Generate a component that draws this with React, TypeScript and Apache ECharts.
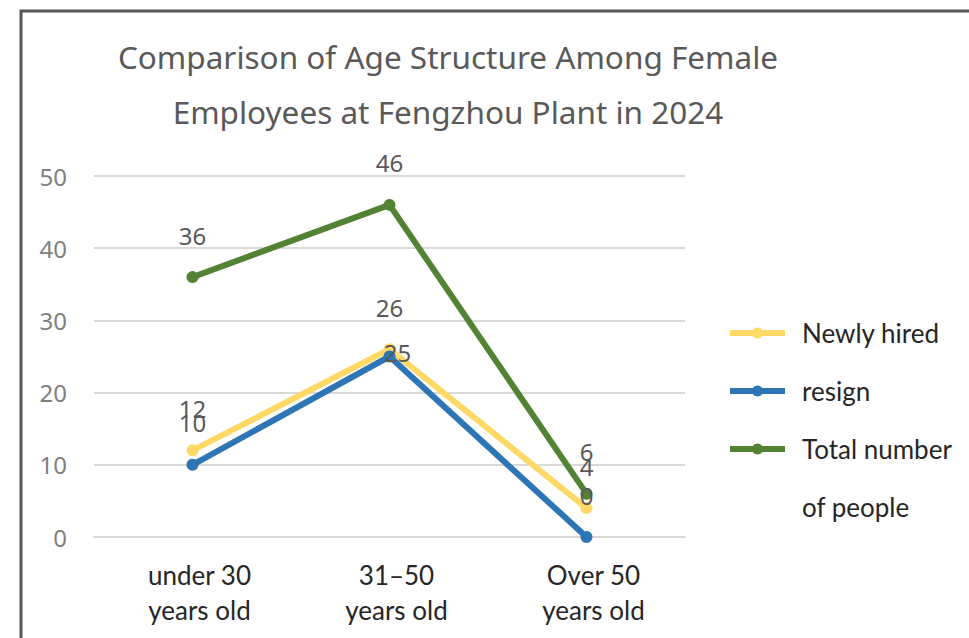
import React, { useEffect, useRef } from 'react';
import * as echarts from 'echarts';

const categories = ['under 30\nyears old', '31–50\nyears old', 'Over 50\nyears old'];
const seriesNames = ['Newly hired', 'resign', 'Total number\nof people'];
const newlyHired = [12, 26, 4];
const resign = [10, 25, 0];
const totalPeople = [36, 46, 6];
const seriesColors = ['#FFD966', '#2E75B6', '#548235'];
const titleText = 'Comparison of Age Structure Among Female\nEmployees at Fengzhou Plant in 2024';

export default function App() {
  const ref = useRef<HTMLDivElement>(null);
  useEffect(() => {
    if (!ref.current) return;
    const chart = echarts.init(ref.current, undefined, { renderer: 'svg' });
    const labelBase = {
      show: true,
      position: 'top',
      distance: 24,
      fontSize: 24,
      color: '#595959',
      fontFamily: 'Noto Sans',
    };
    const mkSeries = (name: string, data: any[], color: string) => ({
      name,
      type: 'line',
      data,
      symbol: 'circle',
      symbolSize: 12,
      color,
      itemStyle: { color },
      lineStyle: { color, width: 6 },
      label: labelBase,
    });
    const resignData = resign.map((v, i) =>
      i === 1 ? { value: v, label: { position: 'inside', offset: [8, -4] } } : v
    );
    const legendBase = {
      orient: 'vertical',
      left: 727,
      padding: 0,
      itemWidth: 55,
      itemHeight: 14,
      itemGap: 0,
      lineStyle: { width: 6 },
      textStyle: {
        fontSize: 26,
        fontFamily: 'Lato',
        color: '#262626',
        lineHeight: 58,
        padding: [0, 0, 0, 12],
      },
    };
    chart.setOption({
      animation: false,
      backgroundColor: '#ffffff',
      title: {
        text: titleText,
        left: 448,
        top: 29,
        textAlign: 'center',
        padding: 0,
        textStyle: {
          fontSize: 31.5,
          fontWeight: 'normal',
          fontFamily: 'Noto Sans',
          color: '#595959',
          lineHeight: 55,
        },
      },
      legend: [
        { ...legendBase, top: 304, data: [seriesNames[0]] },
        { ...legendBase, top: 362, data: [seriesNames[1]] },
        { ...legendBase, top: 362, data: [seriesNames[2]], formatter: '\n{name}' },
      ],
      grid: { left: 94, right: 284, top: 176, bottom: 101, containLabel: false },
      xAxis: {
        type: 'category',
        data: categories,
        boundaryGap: true,
        axisLine: { show: true, lineStyle: { color: '#d9d9d9', width: 2 } },
        axisTick: { show: false },
        axisLabel: {
          fontSize: 26,
          fontFamily: 'Lato',
          color: '#262626',
          lineHeight: 35,
          margin: 20,
          padding: [0, 0, 0, 14],
        },
      },
      yAxis: {
        type: 'value',
        min: 0,
        max: 50,
        interval: 10,
        axisLine: { show: false },
        axisTick: { show: false },
        axisLabel: { fontSize: 24, fontFamily: 'Noto Sans', color: '#808080', margin: 27 },
        splitLine: { lineStyle: { color: '#d9d9d9', width: 2 } },
      },
      graphic: [
        {
          type: 'rect',
          shape: { x: 21, y: 11, width: 1000, height: 700 },
          style: { fill: 'none', stroke: '#595959', lineWidth: 3 },
          silent: true,
        },
      ],
      series: [
        mkSeries(seriesNames[0], newlyHired, seriesColors[0]),
        mkSeries(seriesNames[1], resignData, seriesColors[1]),
        mkSeries(seriesNames[2], totalPeople, seriesColors[2]),
      ],
    });
    return () => chart.dispose();
  }, []);
  return (
    <div
      ref={ref}
      style={{ position: 'absolute', left: 0, top: 0, width: 969, height: 638 }}
    />
  );
}
